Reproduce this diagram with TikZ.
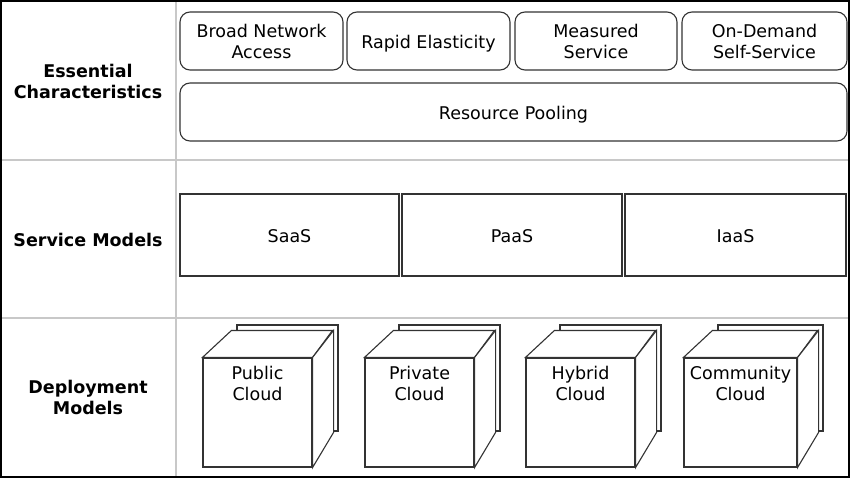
\documentclass[tikz,border=0pt]{standalone}
\usepackage{fontspec}
\setmainfont{DejaVu Sans}
\usetikzlibrary{positioning}
\definecolor{boxline}{HTML}{333333}
\definecolor{gridgray}{HTML}{C8C8C8}
\newcommand{\diagfont}{\fontsize{17.5}{21}\selectfont}
\tikzset{charbox/.style={draw=boxline,line width=1.1pt,rounded corners=10pt,
                         align=center,inner sep=0pt,minimum height=58pt},
         modelbox/.style={draw=boxline,line width=1.1pt,align=center,
                          inner sep=0pt,minimum height=82pt},
         oneline/.style={text height=15.5pt,text depth=0pt},
         rowlabel/.style={font=\diagfont\bfseries,align=center},
         cubeface/.style={draw=boxline,line width=1.1pt,fill=white},
         cubetext/.style={align=center,inner sep=0pt},
         divider/.style={draw=gridgray,line width=1.6pt}}

\begin{document}
\begin{tikzpicture}[x=1pt,y=-1pt,font=\diagfont]
  \useasboundingbox (0,0) rectangle (850,478);
  % grid of the table
  \draw[divider] (176,0) -- (176,478);
  \draw[divider] (0,160) -- (850,160);
  \draw[divider] (0,318) -- (850,318);
  \draw[black,line width=2.4pt] (1.2,1.2) rectangle (848.8,476.8);

  % row labels
  \node[rowlabel] (ess) at (88,81) {Essential\\Characteristics};
  \node[rowlabel] (srv) at (88,240) {Service Models};
  \node[rowlabel] (dep) at (88,397) {Deployment\\Models};

  % essential characteristics
  \node[charbox,minimum width=163pt] (bna) at (261.5,41) {Broad Network\\Access};
  \node[charbox,oneline,minimum width=163pt] (rel) at (428.5,41) {Rapid Elasticity};
  \node[charbox,minimum width=162pt] (msv) at (596,41) {Measured\\Service};
  \node[charbox,minimum width=165pt] (ods) at (764.5,41) {On-Demand\\Self-Service};
  \node[charbox,oneline,minimum width=667pt] (rpo) at (513.5,112) {Resource Pooling};

  % service models
  \node[modelbox,oneline,minimum width=219pt] (saas) at (289.5,235) {SaaS};
  \node[modelbox,oneline,minimum width=220pt] (paas) at (512,235) {PaaS};
  \node[modelbox,oneline,minimum width=221pt] (iaas) at (735.5,235) {IaaS};

  % deployment models
  \foreach \name/\lx/\bw/\txt in {pub/203/109/{Public\\Cloud},
                                  prv/365/109/{Private\\Cloud},
                                  hyb/526/109/{Hybrid\\Cloud},
                                  com/684/113/{Community\\Cloud}}
  {
    \draw[cubeface] (\lx+34,325) rectangle (\lx+\bw+26,431);
    \node[cubeface,inner sep=0pt,minimum width=\bw pt,minimum height=109pt]
      (\name) at ({\lx+\bw/2},412.5) {};
    \draw[cubeface] (\name.north west) -- ++(29,-27) -- ++({\bw-8},0)
      -- (\name.north east) -- cycle;
    \draw[cubeface] (\name.north east) -- ++(21,-27) -- ++(0,102)
      -- (\name.south east) -- cycle;
    \node[cubetext,below=9pt of \name.north] (\name-txt) {\txt};
  }
\end{tikzpicture}
\end{document}
